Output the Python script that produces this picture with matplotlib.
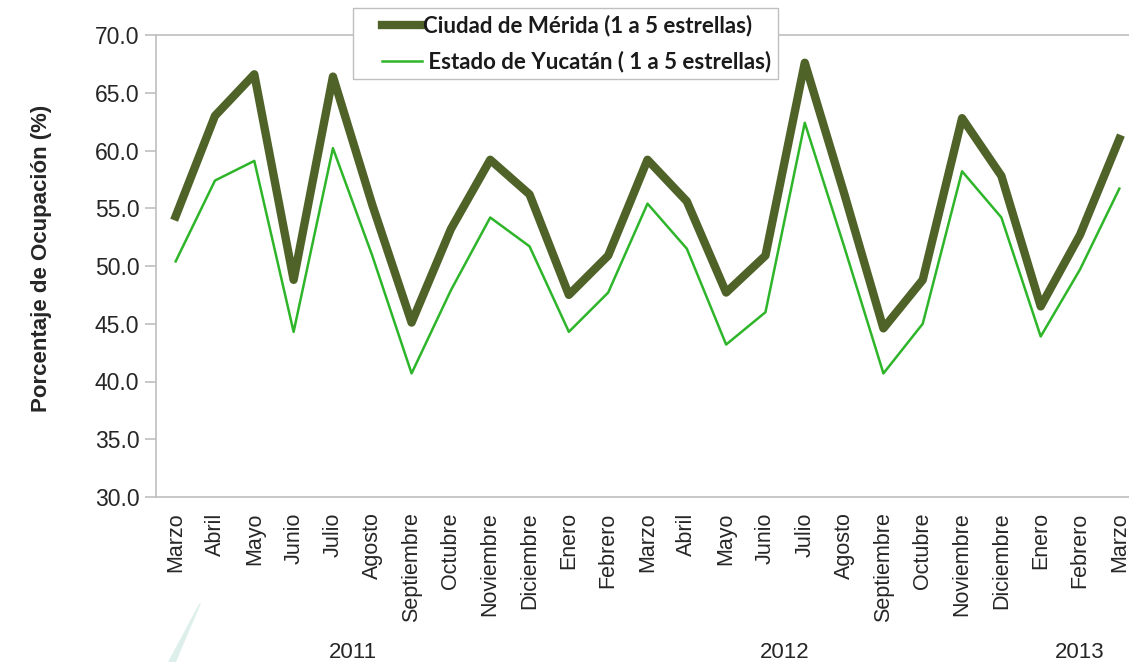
import matplotlib
matplotlib.use("Agg")
import matplotlib.pyplot as plt
import matplotlib.transforms as mtransforms
from matplotlib.patches import Polygon
from matplotlib.legend_handler import HandlerLine2D

# Monthly occupancy, March 2011 - March 2013
meses = ["Marzo", "Abril", "Mayo", "Junio", "Julio", "Agosto", "Septiembre",
         "Octubre", "Noviembre", "Diciembre",
         "Enero", "Febrero", "Marzo", "Abril", "Mayo", "Junio", "Julio", "Agosto",
         "Septiembre", "Octubre", "Noviembre", "Diciembre",
         "Enero", "Febrero", "Marzo"]
anios = ["2011", "2012", "2013"]
meses_por_anio = [10, 12, 3]

merida = [54.3, 63.0, 66.6, 48.8, 66.4, 55.3, 45.1, 53.2, 59.2, 56.2,
          47.5, 50.9, 59.2, 55.6, 47.7, 50.9, 67.6, 56.3, 44.6, 48.8,
          62.8, 57.8, 46.5, 52.7, 61.0]
yucatan = [50.4, 57.4, 59.1, 44.3, 60.2, 50.9, 40.7, 47.9, 54.2, 51.7,
           44.3, 47.7, 55.4, 51.5, 43.2, 46.0, 62.4, 51.7, 40.7, 45.0,
           58.2, 54.2, 43.9, 49.7, 56.7]

label_merida = "Ciudad de Mérida (1 a 5 estrellas)"
label_yucatan = " Estado de Yucatán ( 1 a 5 estrellas)"

W, H = 1129, 662
plt.rcParams['font.family'] = ['Liberation Sans', 'DejaVu Sans']
fig = plt.figure(figsize=(W / 100, H / 100), dpi=100)

# axes deliberately run past the right edge, as in the original
ax = fig.add_axes([156 / W, 1 - 497 / H, 983 / W, 462 / H])

x = list(range(len(meses)))
l1, = ax.plot(x, merida, color="#4F6228", lw=6.0, solid_joinstyle="round", zorder=3)
l2, = ax.plot(x, yucatan, color="#2EB52A", lw=1.8, zorder=2)

ax.set_xlim(-0.5, len(meses) - 0.5)
ax.set_ylim(30, 70)
ax.set_yticks([30 + 5 * i for i in range(9)])
ax.set_yticklabels([f"{30 + 5 * i:.1f}" for i in range(9)])
ax.set_xticks(x)
ax.set_xticklabels(meses, rotation=90, va="top", ha="center")

for s in ax.spines.values():
    s.set_color("#BFBFBF")
    s.set_linewidth(1.2)
ax.tick_params(axis="y", colors="#BFBFBF", labelcolor="#262626", labelsize=16.5,
               length=8, width=1.2, pad=4)
ax.tick_params(axis="x", length=0, labelcolor="#262626", labelsize=15.5, pad=11)

# year labels centred under their months
trans = mtransforms.blended_transform_factory(ax.transData, fig.transFigure)
start = 0
for anio, n in zip(anios, meses_por_anio):
    ax.text(start + (n - 1) / 2, 1 - 652 / H, anio, transform=trans,
            ha="center", va="center", fontsize=16, color="#262626", clip_on=False)
    start += n

fig.text(42 / W, 1 - 258 / H, "Porcentaje de Ocupación (%)", rotation=90,
         ha="center", va="center", fontsize=16, fontweight="bold", color="#262626")

leg_fs = 16
fs_px = leg_fs * 100 / 72
hmap = {l1: HandlerLine2D(xpad=22 / fs_px), l2: HandlerLine2D(xpad=22 / fs_px)}
leg = fig.legend([l1, l2], [label_merida, label_yucatan],
                 loc="upper left", bbox_to_anchor=(353 / W, 1 - 8 / H),
                 borderaxespad=0, fancybox=False, framealpha=1,
                 edgecolor="#BFBFBF", handlelength=62 / fs_px, handletextpad=0.05,
                 labelspacing=0.65, borderpad=0.3, handler_map=hmap,
                 prop={"family": ["Lato", "DejaVu Sans"], "weight": "bold", "size": leg_fs})
leg.get_frame().set_linewidth(1.0)
for t in leg.get_texts():
    t.set_color("#1A1A1A")

# faint watermark streak in the lower left corner
fig.patches.append(Polygon([(168 / W, 0), (176 / W, 0), (201 / W, 1 - 603 / H), (199 / W, 1 - 604 / H)],
                           closed=True, transform=fig.transFigure,
                           facecolor="#D5EBE5", edgecolor="none", alpha=0.8))

fig.savefig("out.png", dpi=100)
